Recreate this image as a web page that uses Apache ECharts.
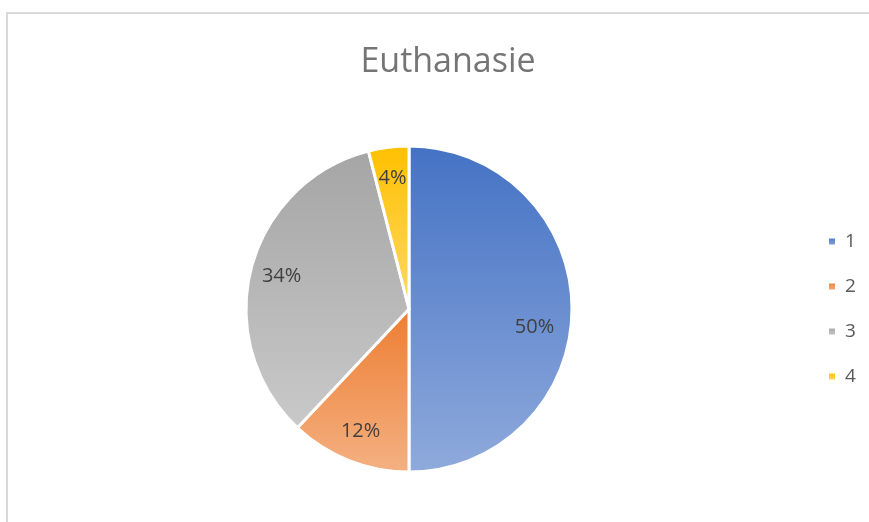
<!DOCTYPE html>
<html>
<head>
<meta charset="utf-8">
<script src="https://cdn.jsdelivr.net/npm/echarts@6/dist/echarts.min.js"></script>
<style>
  html, body { margin: 0; padding: 0; background: #fff; }
  .frame { position: absolute; left: 6px; top: 12px; width: 900px; height: 600px;
           border-left: 2px solid #d9d9d9; border-top: 2px solid #d9d9d9; }
  #main { position: absolute; left: 0; top: 0; width: 869px; height: 522px; }
</style>
</head>
<body>
<div class="frame"></div>
<div id="main"></div>
<script>
// 数据
const categories = ['1', '2', '3', '4'];
const values = [50, 12, 34, 4];
// 渐变色: 上深下浅
const topColors = ['#4472C4', '#ED7D31', '#A5A5A5', '#FFC000'];
const bottomColors = ['#8FAADC', '#F4B183', '#C9C9C9', '#FFD966'];

function grad(i) {
    return new echarts.graphic.LinearGradient(0, 0, 0, 1, [
        { offset: 0, color: topColors[i] },
        { offset: 1, color: bottomColors[i] }
    ]);
}

let myChart = echarts.init(document.getElementById('main'));
let pieData = categories.map((name, i) => ({
    name: name,
    value: values[i],
    itemStyle: { color: grad(i) }
}));

// 标签用的数据, 第一个标签像原图那样略往下
let labelData = categories.map((name, i) => ({ name: name, value: values[i] }));
labelData[0].label = { offset: [-6, 18] };

let option = {
    animation: false,
    title: {
        text: 'Euthanasie',
        left: 443,
        top: 40,
        textAlign: 'center',
        textStyle: { fontFamily: 'Open Sans', fontWeight: 'normal', fontSize: 34, color: '#757575' }
    },
    legend: {
        orient: 'vertical',
        left: 827,
        top: 232,
        padding: 0,
        icon: 'rect',
        itemWidth: 8,
        itemHeight: 8,
        itemGap: 26,
        data: categories,
        textStyle: { fontFamily: 'Open Sans', fontSize: 19, color: '#595959', padding: [0, 0, 0, 4] }
    },
    series: [
        {
            type: 'pie',
            center: [409, 309],
            radius: [0, 163],
            startAngle: 90,
            clockwise: true,
            data: pieData,
            itemStyle: { borderColor: '#fff', borderWidth: 3 },
            label: { show: false },
            labelLine: { show: false },
            emphasis: { disabled: true }
        },
        {
            // 只用来放标签 (约 0.8 半径处)
            type: 'pie',
            center: [409, 309],
            radius: [94, 163],
            startAngle: 90,
            clockwise: true,
            silent: true,
            data: labelData,
            itemStyle: { color: 'rgba(0,0,0,0)' },
            label: {
                show: true,
                position: 'inside',
                formatter: '{d}%',
                fontFamily: 'Open Sans',
                fontSize: 20,
                color: '#404040'
            },
            labelLine: { show: false },
            emphasis: { disabled: true }
        }
    ]
};
myChart.setOption(option);
</script>
</body>
</html>
